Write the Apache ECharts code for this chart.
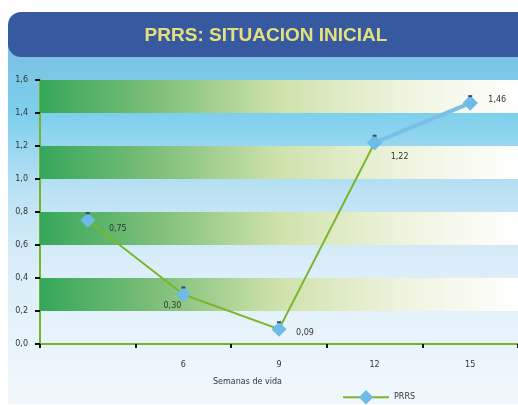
<!DOCTYPE html>
<html>
<head>
<meta charset="utf-8">
<script src="https://cdn.jsdelivr.net/npm/echarts@6/dist/echarts.min.js"></script>
<style>
  html, body { margin: 0; padding: 0; background: #fff; }
  #main { width: 518px; height: 405px; }
</style>
</head>
<body>
<div id="main"></div>
<script>
// datos
var semanas = ['', '6', '9', '12', '15'];
var prrs = [0.75, 0.30, 0.09, 1.22, 1.46];
var yTicks = [0, 0.2, 0.4, 0.6, 0.8, 1.0, 1.2, 1.4, 1.6];
var bandas = [[0.2, 0.4], [0.6, 0.8], [1.0, 1.2], [1.4, 1.6]];
// desplazamiento de cada etiqueta
var labelOffsets = [[30, 9], [-11, 11], [26, 4], [25, 14], [27, -3]];

var chart = echarts.init(document.getElementById('main'));

var bandGradient = new echarts.graphic.LinearGradient(0, 0, 1, 0, [
  { offset: 0, color: '#35a75a' },
  { offset: 0.25, color: '#7fc07a' },
  { offset: 0.5, color: '#cfe2ac' },
  { offset: 0.75, color: '#eef3dc' },
  { offset: 1, color: '#ffffff' }
]);

function fmt(v) { return v.toFixed(2).replace('.', ','); }

var option = {
  animation: false,
  backgroundColor: '#ffffff',
  title: {
    text: 'PRRS: SITUACION INICIAL',
    left: 261,
    top: 21,
    textAlign: 'center',
    textStyle: { color: '#e6e07c', fontSize: 19, fontWeight: 'bold', fontFamily: 'Liberation Sans' }
  },
  graphic: [
    {
      type: 'rect', z: -10, silent: true,
      shape: { x: 8, y: 40, width: 512, height: 364 },
      style: {
        fill: new echarts.graphic.LinearGradient(0, 0, 0, 1, [
          { offset: 0, color: '#7bbfe4' },
          { offset: 0.2, color: '#7dcfec' },
          { offset: 0.42, color: '#bde2f4' },
          { offset: 0.62, color: '#daeef9' },
          { offset: 0.82, color: '#e8f4fb' },
          { offset: 1, color: '#f1f8fd' }
        ])
      }
    },
    {
      type: 'rect', z: -5, silent: true,
      shape: { x: 8, y: 12, width: 525, height: 45, r: 13 },
      style: { fill: '#3659a0' }
    },
    {
      type: 'text', left: 213, top: 378, silent: true,
      style: { text: 'Semanas de vida', fill: '#333', font: '8px "DejaVu Sans"' }
    }
  ],
  legend: {
    data: ['PRRS'],
    left: 337,
    top: 385,
    itemWidth: 46,
    itemHeight: 18,
    itemGap: 4,
    textStyle: { color: '#333', fontSize: 8, fontFamily: 'DejaVu Sans' }
  },
  grid: { left: 40, right: 0, top: 80, bottom: 61 },
  xAxis: {
    type: 'category',
    data: semanas,
    boundaryGap: true,
    axisLine: { lineStyle: { color: '#78b42a', width: 2 } },
    axisTick: { show: true, length: 4, lineStyle: { color: '#111', width: 2 } },
    axisLabel: { color: '#333', fontSize: 8, fontFamily: 'DejaVu Sans', margin: 17 },
    splitLine: { show: false }
  },
  yAxis: {
    type: 'value',
    min: 0,
    max: 1.6,
    interval: 0.2,
    axisLine: { show: true, lineStyle: { color: '#78b42a', width: 2 } },
    axisTick: { show: true, length: 5, lineStyle: { color: '#111', width: 2 } },
    axisLabel: {
      color: '#333', fontSize: 8, fontFamily: 'DejaVu Sans', margin: 12,
      formatter: function (v) { return v.toFixed(1).replace('.', ','); }
    },
    splitLine: { show: false }
  },
  series: [
    {
      name: 'PRRS',
      type: 'line',
      data: prrs.map(function (v, i) {
        return {
          value: v,
          label: { offset: labelOffsets[i] }
        };
      }),
      symbol: 'diamond',
      symbolSize: 15,
      lineStyle: { color: '#7ab52a', width: 2 },
      itemStyle: { color: '#6dbbe6' },
      label: {
        show: true,
        position: 'inside',
        color: '#333',
        fontSize: 8,
        fontFamily: 'DejaVu Sans',
        formatter: function (p) { return fmt(p.value); }
      },
      markArea: {
        silent: true,
        itemStyle: { color: bandGradient },
        data: bandas.map(function (b) { return [{ yAxis: b[0] }, { yAxis: b[1] }]; })
      },
      z: 3
    },
    {
      name: 'tramo',
      type: 'line',
      data: prrs.map(function (v, i) { return i >= 3 ? v : '-'; }),
      symbol: 'diamond',
      symbolSize: 15,
      lineStyle: { color: '#7cbfe6', width: 4 },
      itemStyle: { color: '#6dbbe6' },
      z: 4
    },
    {
      name: 'marca',
      type: 'scatter',
      data: prrs,
      symbol: 'rect',
      symbolSize: [4, 2],
      symbolOffset: [0, -7],
      itemStyle: { color: '#1a2a55' },
      z: 5
    }
  ]
};

chart.setOption(option);
</script>
</body>
</html>
